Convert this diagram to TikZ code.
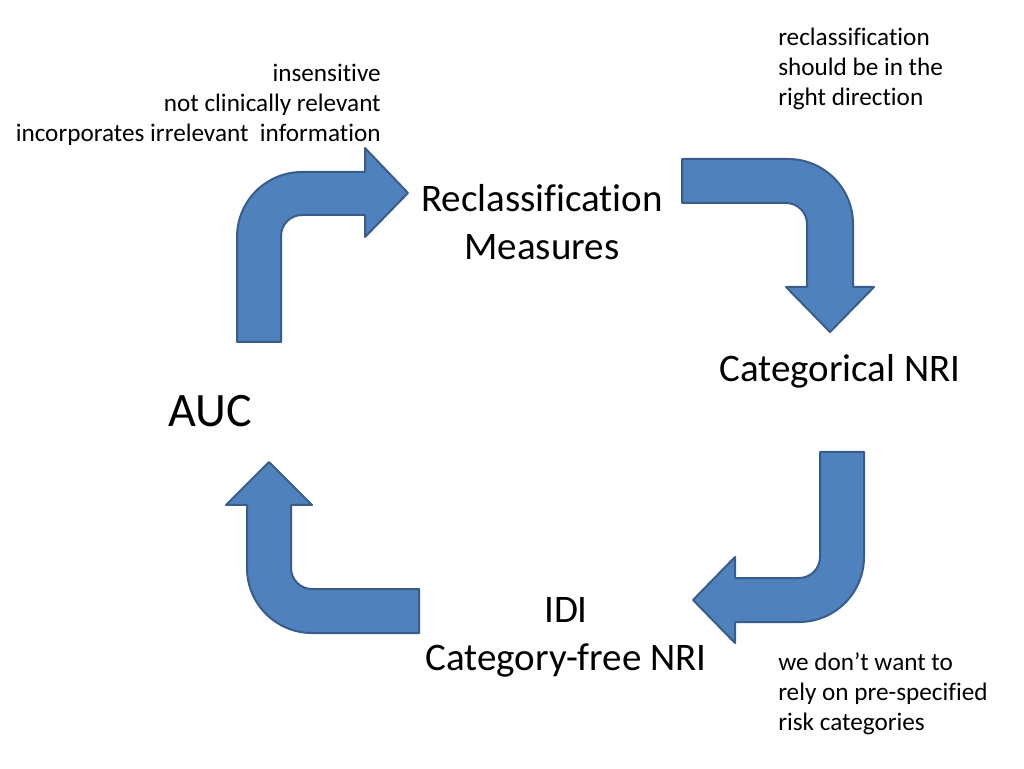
\documentclass[tikz,border=0pt]{standalone}
\usepackage{fontspec}
\setmainfont{Carlito}[Ligatures={NoCommon}]
\definecolor{arrowfill}{HTML}{4F81BD}
\definecolor{arrowline}{HTML}{385D8A}
\tikzset{
  bent/.style={fill=arrowfill, draw=arrowline, line width=1.5pt, line join=round},
  big/.style={inner sep=0pt, font=\fontsize{29.25}{36}\selectfont},
  small/.style={inner sep=0pt, font=\fontsize{18.9}{22.5}\selectfont}
}
\begin{document}
\begin{tikzpicture}[x=0.75pt, y=0.75pt]
\useasboundingbox[fill=white] (0,0) rectangle (1024,768);

% arrow 1: up then right
\path[bent] (237,426) -- (237,531) arc[start angle=180, end angle=90, radius=48.75pt]
  -- (365,596) -- (365,620) -- (408,575) -- (365,531) -- (365,553) -- (302,553)
  arc[start angle=90, end angle=180, radius=15.75pt] -- (281,426) -- cycle;

% arrow 2: right then down
\path[bent] (682,609) -- (788,609) arc[start angle=90, end angle=0, radius=48.75pt]
  -- (853,481) -- (874,481) -- (830,436) -- (786,481) -- (807,481) -- (807,544)
  arc[start angle=0, end angle=90, radius=15.75pt] -- (682,565) -- cycle;

% arrow 3: down then left
\path[bent] (864,316) -- (864,211) arc[start angle=0, end angle=-90, radius=48.75pt]
  -- (735,146) -- (735,125) -- (693,168) -- (735,211) -- (735,190) -- (799,190)
  arc[start angle=-90, end angle=0, radius=15.75pt] -- (820,316) -- cycle;

% arrow 4: left then up
\path[bent] (419,135) -- (312,135) arc[start angle=-90, end angle=-180, radius=48.75pt]
  -- (247,263) -- (226,263) -- (269,306) -- (312,263) -- (291,263) -- (291,200)
  arc[start angle=180, end angle=270, radius=15.75pt] -- (419,179) -- cycle;

% main labels
\node[big, anchor=base] (recl) at (542,556)
  {\begin{tabular}[t]{@{}c@{}}Reclassification\\Measures\end{tabular}};
\node[big, anchor=base] (cat) at (840,386) {Categorical NRI};
\node[inner sep=0pt, font=\fontsize{36}{43}\selectfont, anchor=base] (auc) at (210,341) {AUC};
\node[big, anchor=base] (idi) at (566,146)
  {\begin{tabular}[t]{@{}c@{}}IDI\\Category-free NRI\end{tabular}};

% notes
\node[small, anchor=base east] (note1) at (381,686)
  {\begin{tabular}[t]{@{}r@{}}insensitive\\not clinically relevant\\incorporates irrelevant\ \ information\end{tabular}};
\node[small, anchor=base west] (note2) at (778,722)
  {\begin{tabular}[t]{@{}l@{}}reclassification\\should be in the\\right direction\end{tabular}};
\node[small, anchor=base west] (note3) at (778,98)
  {\begin{tabular}[t]{@{}l@{}}we don’t want to\\rely on pre-specified\\risk categories\end{tabular}};
\end{tikzpicture}
\end{document}
